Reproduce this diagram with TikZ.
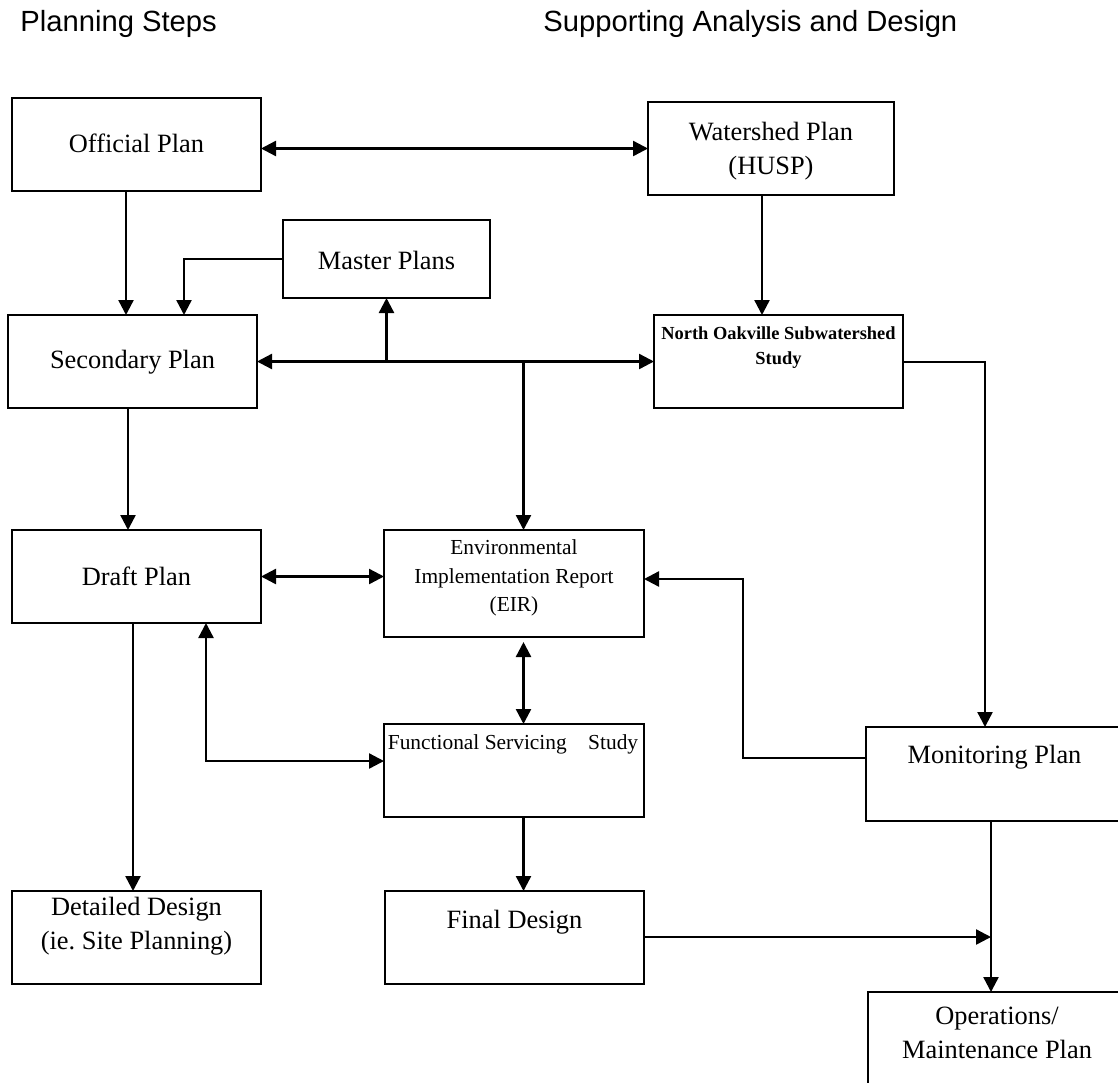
\documentclass[tikz,border=0pt]{standalone}
\usepackage{fontspec}
\setmainfont{Liberation Serif}
\newfontfamily\hdrfont{Liberation Sans}
\usetikzlibrary{arrows.meta,calc}
\begin{document}
\begin{tikzpicture}[x=0.5pt,y=-0.5pt,
  box/.style={draw,line width=1.2pt,inner sep=0pt,outer sep=0pt},
  arr/.style={line width=1.2pt,-{Triangle[length=7.5pt,width=7.5pt]}},
  darr/.style={line width=1.2pt,{Triangle[length=7.5pt,width=7.5pt]}-{Triangle[length=7.5pt,width=7.5pt]}},
  txt/.style={align=center,font=\fontsize{13.2}{17}\selectfont,inner sep=0pt},
  stxt/.style={align=center,font=\fontsize{10.7}{14.3}\selectfont,inner sep=0pt},
  btxt/.style={align=center,font=\fontsize{9.2}{12.5}\selectfont\bfseries,inner sep=0pt},
  hdr/.style={font=\hdrfont\fontsize{14.6}{17}\selectfont,anchor=base west,inner sep=0pt}]
\useasboundingbox (0,0) rectangle (1118,1082);
\fill[white] (0,0) rectangle (1118,1082);

% headers
\node[hdr] (h1) at (20,31) {Planning Steps};
\node[hdr] (h2) at (543,31) {Supporting Analysis and Design};

% boxes
\node[box,minimum width=124.5pt,minimum height=46.5pt] (OP) at (136.5,144.5) {};
\node[box,minimum width=123pt,minimum height=46.5pt] (WP) at (771,148.5) {};
\node[box,minimum width=103.5pt,minimum height=39pt] (MP) at (386.5,259) {};
\node[box,minimum width=124.5pt,minimum height=46.5pt] (SP) at (132.5,361.5) {};
\node[box,minimum width=124.5pt,minimum height=46.5pt] (NO) at (778.5,361.5) {};
\node[box,minimum width=124.5pt,minimum height=46.5pt] (DP) at (136.5,576.5) {};
\node[box,minimum width=130pt,minimum height=53.5pt] (EIR) at (514,583.5) {};
\node[box,minimum width=130pt,minimum height=46.5pt] (FSS) at (514,770.5) {};
\node[box,minimum width=129.5pt,minimum height=47pt] (MonP) at (995.5,774) {};
\node[box,minimum width=124.5pt,minimum height=46.5pt] (DD) at (136.5,937.5) {};
\node[box,minimum width=129.5pt,minimum height=46.5pt] (FD) at (514.5,937.5) {};
\node[box,minimum width=129pt,minimum height=46.5pt] (Ops) at (997,1038.5) {};

% texts
\node[txt] (tOP) at (136.5,143) {Official Plan};
\node[txt] (tWP) at (771,151) {Watershed Plan\\(HUSP)};
\node[txt] (tMP) at (386.5,260) {Master Plans};
\node[txt] (tSP) at (132.5,362) {Secondary Plan};
\node[btxt] (tNO) at (778.5,347.5) {North Oakville Subwatershed\\Study};
\node[txt] (tDP) at (136.5,576) {Draft Plan};
\node[stxt] (tEIR) at (514,578) {Environmental\\Implementation Report\\(EIR)};
\node[stxt] (tFSS) at (513,744) {Functional Servicing\quad Study};
\node[txt] (tMonP) at (994.5,757) {Monitoring Plan};
\node[txt] (tDD) at (136.5,926.5) {Detailed Design\\(ie.\ Site Planning)};
\node[txt] (tFD) at (514.5,922) {Final Design};
\node[txt] (tOps) at (997,1032.5) {Operations/\\Maintenance Plan};

% connector helper coordinates
\coordinate (kOPSP) at (126,0);
\coordinate (kMPSP) at (184,0);
\coordinate (kmid) at (523.5,0);
\coordinate (kWPNO) at (762,0);
\coordinate (kNOM) at (985,362);
\coordinate (kSPDP) at (128,0);
\coordinate (kDPDD) at (133,0);
\coordinate (kFD) at (206,761);
\coordinate (kME) at (743,758);
\coordinate (kME2) at (743,579);
\coordinate (kMO) at (991,937);

% connectors
\draw[darr] (WP.west -| OP.east) -- (WP.west);
\draw[arr] (kOPSP |- OP.south) -- (kOPSP |- SP.north);
\draw[arr] (MP.west) -- (kMPSP |- MP.west) -- (kMPSP |- SP.north);
\draw[darr] (SP.east) -- (NO.west);
\draw[arr] (MP.south |- SP.east) -- (MP.south);
\draw[arr] (kmid |- SP.east) -- (kmid |- EIR.north);
\draw[arr] (kWPNO |- WP.south) -- (kWPNO |- NO.north);
\draw[arr] (kNOM -| NO.east) -- (kNOM) -- (kNOM |- MonP.north);
\draw[arr] (kSPDP |- SP.south) -- (kSPDP |- DP.north);
\draw[darr] (DP.east) -- (DP.east -| EIR.west);
\draw[arr] (kDPDD |- DP.south) -- (kDPDD |- DD.north);
\draw[darr] (kFD |- DP.south) -- (kFD) -- (kFD -| FSS.west);
\draw[darr] ([yshift=-2.5pt]kmid |- EIR.south) -- (kmid |- FSS.north);
\draw[arr] (kME -| MonP.west) -- (kME) -- (kME2) -- (kME2 -| EIR.east);
\draw[arr] (kmid |- FSS.south) -- (kmid |- FD.north);
\draw[arr] (kMO |- MonP.south) -- (kMO |- Ops.north);
\draw[arr] (FD.east |- kMO) -- (kMO);
\end{tikzpicture}
\end{document}
